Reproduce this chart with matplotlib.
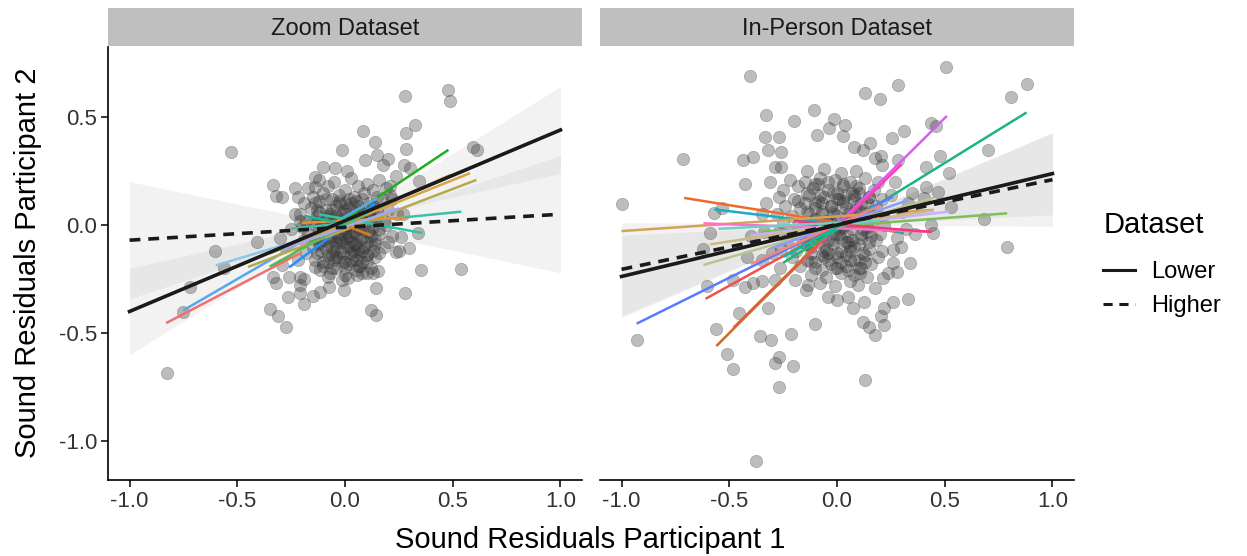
import numpy as np
import matplotlib
matplotlib.use("Agg")
import matplotlib.pyplot as plt
from matplotlib.lines import Line2D

plt.rcParams['font.family'] = ['Liberation Sans', 'DejaVu Sans']

# ---------------- data ----------------
panels = ["Zoom Dataset", "In-Person Dataset"]
x_ticks = [-1.0, -0.5, 0.0, 0.5, 1.0]
x_tick_labels = ["-1.0", "-0.5", "0.0", "0.5", "1.0"]
y_ticks = [-1.0, -0.5, 0.0, 0.5]
y_tick_labels = ["-1.0", "-0.5", "0.0", "0.5"]

zoom_outliers = [(0.478,0.625),(0.486,0.576),(0.278,0.597),(0.324,0.463),(0.282,0.424),(0.082,0.437),
 (0.139,0.383),(0.282,0.350),(-0.015,0.347),(-0.528,0.340),(0.594,0.363),(0.613,0.347),(0.094,0.301),
 (0.147,0.324),(0.200,0.306),(0.177,0.278),(0.273,0.278),(0.301,0.262),(0.239,0.227),(0.344,0.204),
 (-0.100,0.267),(-0.046,0.262),(0.008,0.252),(-0.332,0.185),(-0.231,0.170),(-0.320,0.134),(-0.293,0.131),
 (-0.216,0.131),(-0.139,0.224),(-0.139,0.177),(-0.602,-0.120),(-0.409,-0.077),(-0.721,-0.289),
 (-0.752,-0.404),(-0.826,-0.684),(-0.560,-0.198),(0.262,-0.054),(0.340,-0.035),(0.239,-0.123),
 (0.252,-0.119),(0.298,-0.108),(0.355,-0.208),(0.537,-0.205),(0.278,-0.313),(0.144,-0.293),
 (0.154,-0.211),(0.131,-0.224),(0.119,-0.394),(0.142,-0.417),(-0.005,-0.301),(-0.074,-0.285),
 (-0.116,-0.309),(-0.147,-0.329),(-0.190,-0.366),(-0.208,-0.316),(-0.265,-0.332),(-0.350,-0.390),
 (-0.309,-0.421),(-0.275,-0.474),(-0.332,-0.239),(-0.321,-0.270),(-0.258,-0.242),(-0.211,-0.242),
 (-0.190,-0.252),(-0.208,-0.278),(-0.015,-0.255),(0.015,-0.247),(0.054,-0.231),(0.077,-0.224),
 (-0.077,-0.239),(-0.116,-0.208),(-0.139,-0.193),(-0.216,-0.162),(-0.293,-0.185),
 (-0.23,0.05),(-0.21,0.02),(-0.25,-0.02),(-0.30,-0.06),(0.22,0.12),(0.27,0.05),(0.21,0.18)]

zoom_core = [(-0.12,0.21),(-0.05,0.20),(0.03,0.22),(0.10,0.19),(0.16,0.21),
 (-0.17,0.17),(-0.08,0.18),(0.00,0.16),(0.06,0.18),(0.13,0.16),(0.19,0.17),
 (-0.15,0.13),(-0.10,0.15),(-0.03,0.14),(0.04,0.13),(0.09,0.15),(0.15,0.13),(0.21,0.14),
 (-0.19,0.10),(-0.12,0.11),(-0.06,0.12),(0.00,0.10),(0.05,0.11),(0.11,0.10),(0.17,0.12),
 (-0.16,0.08),(-0.09,0.07),(-0.04,0.09),(0.02,0.08),(0.07,0.06),(0.13,0.08),(0.20,0.07),
 (-0.21,0.05),(-0.13,0.04),(-0.07,0.05),(-0.01,0.06),(0.04,0.04),(0.09,0.05),(0.15,0.04),(0.24,0.05),
 (-0.18,0.02),(-0.11,0.01),(-0.05,0.03),(0.01,0.02),(0.06,0.01),(0.12,0.03),(0.18,0.02),
 (-0.20,-0.01),(-0.14,0.00),(-0.08,-0.02),(-0.03,-0.01),(0.02,0.00),(0.07,-0.02),(0.13,-0.01),(0.19,0.00),
 (-0.17,-0.04),(-0.10,-0.05),(-0.05,-0.03),(0.00,-0.04),(0.05,-0.05),(0.10,-0.03),(0.16,-0.04),(0.22,-0.05),
 (-0.19,-0.07),(-0.12,-0.08),(-0.07,-0.06),(-0.02,-0.07),(0.03,-0.08),(0.08,-0.06),(0.14,-0.07),(0.20,-0.08),
 (-0.15,-0.10),(-0.09,-0.11),(-0.04,-0.09),(0.01,-0.10),(0.06,-0.11),(0.12,-0.09),(0.18,-0.10),
 (-0.18,-0.13),(-0.11,-0.12),(-0.06,-0.14),(-0.01,-0.13),(0.04,-0.12),(0.10,-0.14),(0.16,-0.13),
 (-0.14,-0.16),(-0.08,-0.17),(-0.03,-0.15),(0.03,-0.16),(0.08,-0.17),(0.14,-0.15),
 (-0.10,-0.19),(-0.04,-0.20),(0.02,-0.18),(0.07,-0.19),(0.12,-0.20),
 (-0.07,-0.22),(0.00,-0.23),(0.05,-0.21),(0.10,-0.22),
 (-0.06,-0.02),(-0.02,0.03),(0.03,-0.03),(0.08,0.02),(-0.04,-0.08),(0.01,-0.06),(0.05,-0.09),
 (-0.08,0.04),(0.00,0.07),(0.06,0.09),(-0.03,0.10),(-0.10,-0.07),(0.10,-0.08),(0.04,-0.14),
 (-0.05,-0.12),(0.02,0.12),(-0.13,0.07),(0.11,0.06),(-0.01,-0.17),(0.07,-0.13)]

zoom_core_dense = [(-0.14,0.10),(-0.09,0.12),(-0.03,0.11),(0.03,0.10),(0.08,0.12),(0.13,0.09),
 (-0.12,0.06),(-0.06,0.07),(0.00,0.05),(0.05,0.07),(0.11,0.05),(0.15,0.07),
 (-0.15,0.02),(-0.09,0.03),(-0.03,0.01),(0.03,0.03),(0.09,0.00),(0.14,0.02),
 (-0.12,-0.02),(-0.06,-0.01),(0.00,-0.02),(0.06,-0.01),(0.11,-0.03),(0.16,-0.02),
 (-0.14,-0.06),(-0.08,-0.05),(-0.03,-0.06),(0.02,-0.05),(0.07,-0.07),(0.12,-0.05),
 (-0.12,-0.09),(-0.06,-0.10),(-0.01,-0.08),(0.04,-0.09),(0.09,-0.10),(0.14,-0.09),
 (-0.13,-0.13),(-0.08,-0.14),(-0.02,-0.12),(0.03,-0.13),(0.08,-0.12),(0.13,-0.12),
 (-0.10,-0.17),(-0.05,-0.16),(0.00,-0.17),(0.05,-0.16),(0.10,-0.17),
 (-0.06,-0.20),(0.00,-0.20),(0.06,-0.19),
 (-0.04,0.04),(0.01,0.00),(0.04,-0.03),(-0.02,-0.04),(0.07,0.03),(-0.07,-0.08),(0.02,-0.10),
 (-0.10,0.00),(0.10,-0.14),(-0.04,-0.15)]

inperson_outliers = [(-0.403,0.690),(0.507,0.733),(0.882,0.653),(0.806,0.591),(0.285,0.650),(0.132,0.613),
 (0.200,0.582),(-0.109,0.532),(-0.330,0.509),(-0.198,0.481),(-0.012,0.491),(-0.036,0.448),(0.037,0.463),
 (0.026,0.414),(-0.095,0.417),(-0.333,0.409),(-0.271,0.409),(0.256,0.401),(0.313,0.435),(0.437,0.471),
 (0.460,0.458),(0.155,0.381),(0.081,0.363),(0.119,0.347),(-0.322,0.347),(-0.260,0.340),(-0.388,0.316),
 (-0.436,0.301),(-0.715,0.306),(0.701,0.347),(0.476,0.319),(0.522,0.239),(0.411,0.270),(0.282,0.301),
 (0.205,0.319),(0.177,0.309),(0.208,0.278),(-0.428,0.190),(-0.260,0.270),(-1.000,0.097),(-0.571,0.054),
 (-0.532,0.077),(-0.589,-0.039),(0.414,0.174),(0.468,0.154),(0.406,0.123),(0.530,0.085),(0.682,0.026),
 (0.789,-0.100),(0.437,0.000),(0.445,-0.039),(0.363,-0.043),(0.341,-0.177),(0.298,-0.103),(0.259,-0.116),
 (0.259,-0.177),(0.279,-0.216),(0.236,-0.224),(0.212,-0.247),(0.329,-0.340),(0.259,-0.355),(0.220,-0.386),
 (0.202,-0.420),(0.217,-0.463),(0.150,-0.471),(0.177,-0.509),(0.119,-0.448),(0.127,-0.355),(0.076,-0.386),
 (0.050,-0.332),(0.000,-0.347),(-0.040,-0.332),(0.096,-0.278),(0.177,-0.293),(-0.102,-0.458),(0.132,-0.718),
 (-0.377,-1.093),(-0.268,-0.748),(-0.288,-0.640),(-0.271,-0.610),(-0.206,-0.653),(-0.214,-0.502),
 (-0.307,-0.532),(-0.358,-0.514),(-0.512,-0.599),(-0.482,-0.668),(-0.563,-0.483),(-0.457,-0.409),
 (-0.318,-0.383),(-0.927,-0.532),(-0.605,-0.282),(-0.481,-0.255),(-0.428,-0.289),(-0.389,-0.267),
 (-0.349,-0.259),(-0.287,-0.255),(-0.195,-0.255),(-0.264,-0.201),(-0.136,-0.278),(-0.144,-0.301),
 (0.109,-0.224),(-0.620,-0.113),(-0.420,-0.147),(-0.35,-0.16),(-0.30,-0.13),(0.30,0.06),(0.33,0.10),
 (0.32,-0.02),(0.35,0.15),(-0.35,0.05),(-0.33,0.10),(-0.40,-0.05),(-0.34,-0.03),(-0.31,0.20),
 (-0.29,0.27),(0.27,0.20),(0.25,0.14),(0.28,-0.06)]

inperson_core = [(-0.14,0.25),(-0.06,0.26),(0.02,0.24),(0.09,0.25),
 (-0.22,0.21),(-0.15,0.20),(-0.08,0.22),(-0.01,0.21),(0.06,0.20),(0.13,0.22),(0.19,0.20),
 (-0.25,0.16),(-0.18,0.18),(-0.11,0.17),(-0.04,0.16),(0.03,0.18),(0.10,0.17),(0.17,0.16),
 (-0.27,0.13),(-0.20,0.12),(-0.13,0.14),(-0.06,0.13),(0.01,0.12),(0.08,0.14),(0.15,0.13),(0.21,0.12),
 (-0.24,0.09),(-0.17,0.08),(-0.10,0.10),(-0.03,0.09),(0.04,0.08),(0.11,0.10),(0.18,0.09),
 (-0.28,0.05),(-0.21,0.04),(-0.14,0.06),(-0.07,0.05),(0.00,0.04),(0.06,0.06),(0.13,0.05),(0.20,0.04),
 (-0.25,0.01),(-0.18,0.00),(-0.11,0.02),(-0.04,0.01),(0.03,0.00),(0.09,0.02),(0.16,0.01),(0.22,0.00),
 (-0.27,-0.03),(-0.20,-0.04),(-0.13,-0.02),(-0.06,-0.03),(0.01,-0.04),(0.07,-0.02),(0.14,-0.03),(0.20,-0.04),
 (-0.23,-0.07),(-0.16,-0.08),(-0.09,-0.06),(-0.02,-0.07),(0.05,-0.08),(0.11,-0.06),(0.18,-0.07),
 (-0.26,-0.11),(-0.19,-0.12),(-0.12,-0.10),(-0.05,-0.11),(0.02,-0.12),(0.08,-0.10),(0.15,-0.11),(0.21,-0.12),
 (-0.21,-0.15),(-0.14,-0.16),(-0.07,-0.14),(0.00,-0.15),(0.06,-0.16),(0.13,-0.14),(0.19,-0.15),
 (-0.17,-0.19),(-0.10,-0.20),(-0.03,-0.18),(0.04,-0.19),(0.10,-0.20),(0.16,-0.18),
 (-0.12,-0.23),(-0.05,-0.24),(0.02,-0.22),(0.08,-0.23),(0.14,-0.24),
 (-0.08,-0.27),(-0.01,-0.28),(0.06,-0.26),
 (-0.05,0.00),(0.00,-0.01),(0.04,0.03),(-0.08,-0.04),(0.02,-0.06),(-0.02,0.06),(0.06,-0.10),
 (-0.10,0.03),(0.09,0.07),(-0.04,-0.13),(0.12,-0.02),(-0.15,-0.05),(0.03,0.11),(-0.07,0.10),
 (0.00,-0.20),(0.10,-0.16),(-0.12,-0.17),(0.15,0.06),(-0.18,0.11),(0.07,0.15),(-0.09,0.19),(0.00,0.15)]

inperson_core_dense = [(-0.10,0.19),(-0.04,0.20),(0.03,0.19),(0.09,0.18),
 (-0.14,0.15),(-0.08,0.14),(-0.02,0.15),(0.04,0.14),(0.10,0.15),(0.15,0.13),
 (-0.15,0.10),(-0.09,0.11),(-0.03,0.09),(0.03,0.10),(0.09,0.09),(0.14,0.10),
 (-0.13,0.05),(-0.07,0.06),(-0.01,0.05),(0.05,0.05),(0.11,0.06),(0.16,0.04),
 (-0.15,0.01),(-0.09,0.00),(-0.03,0.01),(0.03,-0.01),(0.09,0.01),(0.14,-0.01),
 (-0.13,-0.04),(-0.07,-0.05),(-0.01,-0.04),(0.05,-0.05),(0.11,-0.04),(0.16,-0.05),
 (-0.14,-0.09),(-0.08,-0.08),(-0.02,-0.09),(0.04,-0.08),(0.10,-0.09),(0.15,-0.08),
 (-0.12,-0.13),(-0.06,-0.12),(0.00,-0.13),(0.06,-0.12),(0.12,-0.13),
 (-0.10,-0.17),(-0.04,-0.16),(0.02,-0.17),(0.08,-0.16),(0.13,-0.17),
 (-0.07,-0.21),(-0.01,-0.20),(0.05,-0.21),(0.11,-0.20),
 (-0.05,0.02),(0.01,-0.02),(0.06,0.02),(-0.04,-0.07),(0.07,-0.07),(-0.10,0.08),(0.00,0.12),
 (0.08,0.12),(-0.06,-0.15),(0.04,-0.14)]

# per-pair regression lines: x-range, slope, intercept
zoom_pair_x0 = [-0.33, -0.75, -0.26, -0.83, -0.60, -0.45, -0.30, -0.35, -0.25, -0.12, -0.20, -0.35, -0.30, 0.02, -0.18]
zoom_pair_x1 = [0.48, 0.15, 0.14, -0.20, 0.20, 0.61, 0.49, 0.58, 0.54, 0.36, 0.28, 0.20, 0.25, 0.12, 0.00]
zoom_pair_slope = [0.667, 0.578, 0.74, 0.52, 0.30, 0.38, 0.45, 0.40, 0.10, -0.18, 0.05, 0.55, 0.35, -0.40, -0.20]
zoom_pair_icpt = [0.028, 0.039, -0.004, -0.022, -0.007, -0.023, 0.012, 0.008, 0.008, 0.028, 0.02, 0.0, -0.01, 0.0, 0.005]
zoom_pair_colors = ['#1DB11D', '#55A8F0', '#1E90FF', '#F07070', '#8CC6E8', '#B8A84A', '#C2B25A', '#D9A441',
                    '#3DBFA8', '#2EC4A0', '#E8902A', '#5DB85D', '#A9A6F5', '#E07B1A', '#1BB59A']

inperson_pair_x0 = [-0.48, -0.48, -0.56, -0.25, -0.93, -0.61, -0.71, -0.57, -1.00, -0.35, -0.62, -0.40, -0.59, -0.62, -0.20, -0.25, -0.30, -0.40, -0.55]
inperson_pair_x1 = [0.51, 0.30, -0.05, 0.88, 0.26, 0.15, 0.31, 0.31, 0.45, 0.79, 0.44, 0.52, 0.45, 0.45, 0.44, 0.17, 0.33, 0.20, 0.20]
inperson_pair_slope = [0.99, 0.97, 1.0, 0.616, 0.494, 0.55, -0.16, -0.12, 0.068, 0.075, -0.037, 0.12, 0.152, 0.29, -0.08, 0.55, 0.35, 0.45, 0.05]
inperson_pair_icpt = [0.0, -0.01, 0.0, -0.021, 0.003, -0.006, 0.012, 0.004, 0.04, -0.005, -0.015, 0.0, 0.0, -0.005, 0.003, -0.01, 0.0, 0.0, 0.01]
inperson_pair_colors = ['#D85CF0', '#FF40A8', '#D2691E', '#1CB57A', '#5B7BFF', '#F2504A', '#EE6A2A', '#14AFC4',
                        '#D4A257', '#7DBF5A', '#FF6EC7', '#C8AFFF', '#CDBB85', '#B8C58E', '#F23A7A', '#00BFA5',
                        '#8E9BFF', '#F08878', '#6ED0C8']

# overall fits per dataset group: intercept, slope, CI half-width at x=0 and growth
groups = ["Lower", "Higher"]
zoom_fit_icpt = [0.02, -0.01]
zoom_fit_slope = [0.42, 0.06]
zoom_fit_ci0 = [0.02, 0.025]
zoom_fit_ci1 = [0.20, 0.27]
inperson_fit_icpt = [0.0, 0.0025]
inperson_fit_slope = [0.238, 0.2075]
inperson_fit_ci0 = [0.015, 0.02]
inperson_fit_ci1 = [0.19, 0.215]

# ---------------- figure ----------------
W, H = 1247, 556
fig = plt.figure(figsize=(W / 100, H / 100), dpi=100)

def fx(px):
    return px / W

def fy(py):
    return 1 - py / H

ax_left = [108, 600]
ax_w = 474
ax_top, ax_bot = 47, 480
strip_top = 8

datasets = [
    (zoom_outliers + zoom_core + zoom_core_dense, zoom_pair_x0, zoom_pair_x1, zoom_pair_slope, zoom_pair_icpt,
     zoom_pair_colors, zoom_fit_icpt, zoom_fit_slope, zoom_fit_ci0, zoom_fit_ci1),
    (inperson_outliers + inperson_core + inperson_core_dense, inperson_pair_x0, inperson_pair_x1,
     inperson_pair_slope, inperson_pair_icpt, inperson_pair_colors, inperson_fit_icpt, inperson_fit_slope,
     inperson_fit_ci0, inperson_fit_ci1),
]

styles = ['-', (0, (3, 2.2))]

for i, (title, d) in enumerate(zip(panels, datasets)):
    pts, px0, px1, psl, pic, pcol, ficpt, fsl, fci0, fci1 = d
    l = ax_left[i]
    ax = fig.add_axes([fx(l), fy(ax_bot), fx(ax_w), (ax_bot - ax_top) / H])
    ax.set_xlim(-1.1, 1.1)
    ax.set_ylim(-1.18, 0.824)

    xs = np.linspace(-1.0, 1.0, 200)
    for g in range(2):
        yhat = ficpt[g] + fsl[g] * xs
        hw = np.sqrt(fci0[g] ** 2 + (fci1[g] * xs) ** 2)
        ax.fill_between(xs, yhat - hw, yhat + hw, color='#999999', alpha=0.12, linewidth=0, zorder=1)

    px = [p[0] for p in pts]
    py = [p[1] for p in pts]
    ax.scatter(px, py, s=80, color='#333333', alpha=0.32, edgecolors='#333333', linewidths=0.5, zorder=2)

    for a, b, s_, c_, col in zip(px0, px1, psl, pic, pcol):
        xx = np.array([a, b])
        ax.plot(xx, c_ + s_ * xx, color=col, lw=1.8, zorder=3, solid_capstyle='butt')

    for g in range(2):
        xx = np.array([-1.0, 1.0])
        ax.plot(xx, ficpt[g] + fsl[g] * xx, color='#1a1a1a', lw=2.6, ls=styles[g], zorder=4)

    for sp in ['top', 'right']:
        ax.spines[sp].set_visible(False)
    ax.spines['bottom'].set_linewidth(1.2)
    ax.spines['left'].set_linewidth(1.2)
    if i == 1:
        ax.spines['left'].set_visible(False)
        ax.set_yticks([])
    else:
        ax.set_yticks(y_ticks)
        ax.set_yticklabels(y_tick_labels)
    ax.set_xticks(x_ticks)
    ax.set_xticklabels(x_tick_labels)
    ax.tick_params(axis='both', length=5, width=1.1, labelsize=16, colors='black', pad=3)
    for t in ax.get_xticklabels() + ax.get_yticklabels():
        t.set_color('#333333')

    sax = fig.add_axes([fx(l), fy(ax_top - 1), fx(ax_w), (ax_top - 1 - strip_top) / H])
    sax.set_facecolor('#BFBFBF')
    sax.set_xticks([])
    sax.set_yticks([])
    for sp in sax.spines.values():
        sp.set_visible(False)
    sax.text(0.5, 0.45, title, ha='center', va='center', fontsize=17, color='#1a1a1a', transform=sax.transAxes)

fig.text(fx(590), fy(540), "Sound Residuals Participant 1", ha='center', va='center', fontsize=21)
fig.text(fx(28), fy(263), "Sound Residuals Participant 2", ha='center', va='center', fontsize=21, rotation=90)

fig.text(fx(1104), fy(225), "Dataset", ha='left', va='center', fontsize=21)
handles = [Line2D([0], [0], color='#1a1a1a', lw=2.2, ls=styles[g]) for g in range(2)]
leg = fig.legend(handles, groups, loc='upper left', bbox_to_anchor=(fx(1103), fy(261)),
                 frameon=False, fontsize=17, handlelength=1.35, handletextpad=0.7,
                 labelspacing=0.5, borderpad=0, borderaxespad=0)

fig.savefig("out.png", dpi=100)
